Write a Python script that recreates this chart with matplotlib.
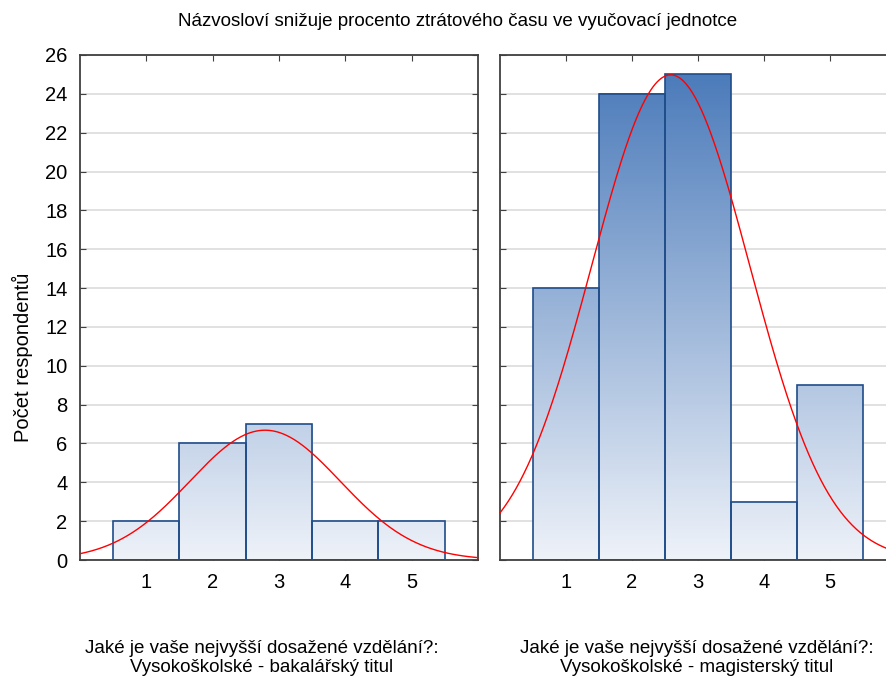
import numpy as np
from matplotlib import pyplot as plt
from matplotlib.colors import LinearSegmentedColormap

plt.rcParams['font.family'] = ['Liberation Sans', 'DejaVu Sans']

# data
levels = [1, 2, 3, 4, 5]
counts_bc = [2, 6, 7, 2, 2]      # bakalářský titul
counts_mgr = [14, 24, 25, 3, 9]  # magisterský titul

title = 'Názvosloví snižuje procento ztrátového času ve vyučovací jednotce'
ylab = 'Počet respondentů'
xlab_bc = 'Jaké je vaše nejvyšší dosažené vzdělání?:\nVysokoškolské - bakalářský titul'
xlab_mgr = 'Jaké je vaše nejvyšší dosažené vzdělání?:\nVysokoškolské - magisterský titul'

ymax = 26
cmap = LinearSegmentedColormap.from_list('grad', ['#eef2f9', '#4677b8'])
edge = '#1f4d8a'
spine_col = '#404040'


def panel(ax, counts, show_y):
    x = np.array(levels, dtype=float)
    c = np.array(counts, dtype=float)
    # gradient bars, colour depends on height in the axes (0..26)
    for xi, h in zip(x, c):
        grad = np.linspace(0, h, 200).reshape(-1, 1)
        ax.imshow(grad, extent=(xi - 0.5, xi + 0.5, 0, h), origin='lower',
                  cmap=cmap, vmin=0, vmax=ymax, aspect='auto', zorder=2)
    ax.bar(x, c, width=1.0, fill=False, edgecolor=edge, linewidth=1.2, zorder=3)

    # fitted normal curve
    n = c.sum()
    mu = (x * c).sum() / n
    sd = np.sqrt(((x - mu) ** 2 * c).sum() / (n - 1))
    t = np.linspace(0, 6, 400)
    ax.plot(t, n / (sd * np.sqrt(2 * np.pi)) * np.exp(-0.5 * ((t - mu) / sd) ** 2),
            color='red', lw=1.0, zorder=4, clip_on=False)

    ax.set_xlim(0, 6)
    ax.set_ylim(0, ymax)
    ax.set_xticks(levels)
    ax.set_yticks(range(0, ymax + 1, 2))
    ax.yaxis.grid(True, color='#dcdcdc', lw=1.2, zorder=0)
    ax.set_axisbelow(True)
    ax.tick_params(direction='in', top=True, right=True, length=4,
                   color=spine_col, labelsize=14.5, pad=9)
    if not show_y:
        ax.tick_params(labelleft=False)
    for s in ax.spines.values():
        s.set_color(spine_col)
        s.set_linewidth(1.3)


fig = plt.figure(figsize=(8.86, 6.8), dpi=100)
ax1 = fig.add_axes([80 / 886, 120 / 680, 398 / 886, 505 / 680])
ax2 = fig.add_axes([500 / 886, 120 / 680, 396 / 886, 505 / 680])
panel(ax1, counts_bc, True)
panel(ax2, counts_mgr, False)

fig.text(458 / 886, 1 - 21 / 680, title, ha='center', va='center', fontsize=13.5)
fig.text(22 / 886, 1 - 357 / 680, ylab, rotation=90, ha='center', va='center', fontsize=14.5)
fig.text(262 / 886, 1 - 658 / 680, xlab_bc, ha='center', va='center', fontsize=13.5,
         linespacing=1.15)
fig.text(697 / 886, 1 - 658 / 680, xlab_mgr, ha='center', va='center', fontsize=13.5,
         linespacing=1.15)

fig.savefig('out.png', dpi=100)
